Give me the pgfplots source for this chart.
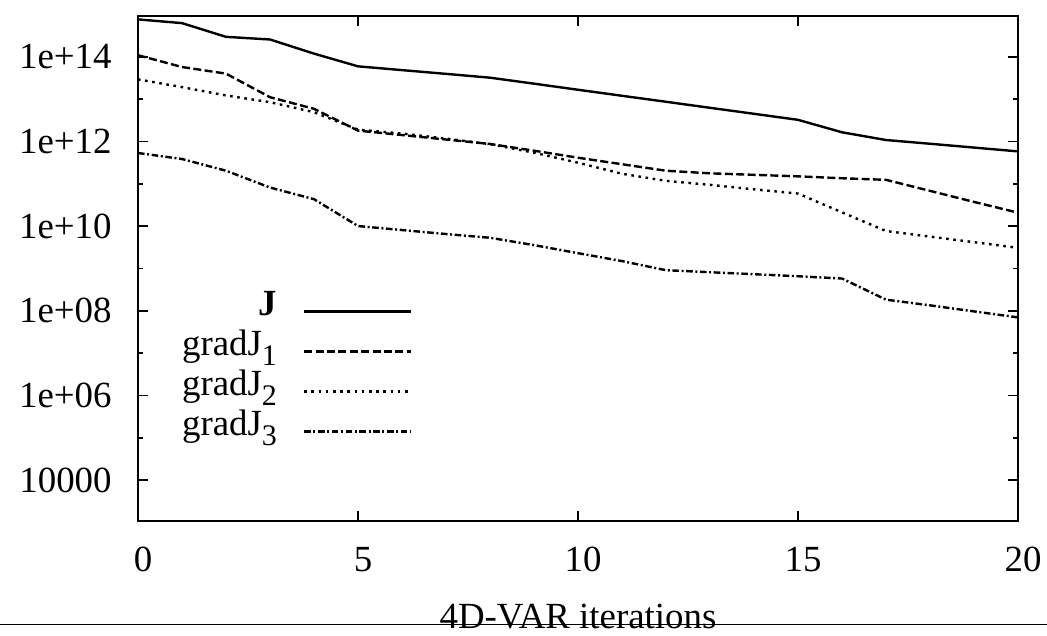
\documentclass[border=0pt]{standalone}
\usepackage{fontspec}
\setmainfont{Liberation Serif}
\usepackage{pgfplots}
\pgfplotsset{compat=1.18}
\newcommand{\sub}[1]{\raisebox{-5bp}{\fontsize{15}{15}\selectfont #1}}
\begin{document}
\fontsize{18.5}{22}\selectfont
\begin{tikzpicture}
\useasboundingbox (-69bp,-57.65bp) rectangle (454.5bp,260.35bp);
\begin{axis}[
  at={(0,0)}, anchor=south west,
  scale only axis, width=440bp, height=252.35bp,
  xmin=0, xmax=20, ymode=log, ymin=1.1e3, ymax=9.3e14,
  axis line style={line width=0.9bp},
  every tick/.style={line width=0.8bp, black},
  major tick length=5bp, minor tick length=2.5bp,
  xtick={0,5,10,15,20},
  ytick={1e4,1e6,1e8,1e10,1e12,1e14},
  yticklabels={10000,1e+06,1e+08,1e+10,1e+12,1e+14},
  minor ytick={1e5,1e7,1e9,1e11,1e13},
  /pgf/number format/assume math mode=true,
  tick label style={font=\fontsize{18.5}{22}\selectfont},
  yticklabel style={inner sep=0pt, xshift=-13bp},
  xticklabel style={inner sep=0pt, yshift=-13bp, xshift=2.5bp},
  xlabel={4D-VAR iterations},
  xlabel style={at={(axis description cs:0.5,0)}, anchor=base, yshift=-53.8bp, inner sep=0pt, font=\fontsize{18.5}{22}\selectfont},
  legend cell align=right,
  legend plot pos=right,
  legend image code/.code={\draw[#1] (0bp,0bp) -- (53.5bp,0bp);},
  legend style={at={(rel axis cs:0.319,0.463)}, anchor=north east, draw=none, fill=none,
    font=\fontsize{18.5}{22}\selectfont, row sep=0pt,
    nodes={inner sep=0pt, text height=12bp, text depth=8bp},
    /tikz/every odd column/.append style={column sep=13bp}},
  clip=true,
]
\addplot[black, line width=1.2bp] coordinates {
(0,7.73e14) (1,6.31e14) (2,2.99e14) (3,2.59e14) (4,1.20e14) (5,6.01e13)
(6,4.89e13) (7,3.99e13) (8,3.24e13) (9,2.34e13) (10,1.68e13) (11,1.21e13)
(12,8.74e12) (13,6.29e12) (14,4.54e12) (15,3.27e12) (16,1.66e12) (17,1.09e12)
(18,8.90e11) (19,7.23e11) (20,5.87e11)};
\addlegendentry{\textbf{J}}
\addplot[black, line width=1.2bp, dash pattern=on 4bp off 1.7bp] coordinates {
(0,1.10e14) (1,5.79e13) (2,4.04e13) (3,1.12e13) (4,5.96e12) (5,1.82e12)
(6,1.43e12) (7,1.12e12) (8,8.80e11) (9,6.10e11) (10,4.16e11) (11,2.92e11)
(12,2.05e11) (13,1.78e11) (14,1.64e11) (15,1.51e11) (16,1.36e11) (17,1.25e11)
(18,6.85e10) (19,3.76e10) (20,2.09e10)};
\addlegendentry{gradJ\sub{1}}
\addplot[black, line width=1.2bp, dash pattern=on 1.3bp off 2.3bp] coordinates {
(0,2.96e13) (1,1.94e13) (2,1.23e13) (3,8.55e12) (4,4.95e12) (5,1.92e12)
(6,1.55e12) (7,1.18e12) (8,8.71e11) (9,5.47e11) (10,3.17e11) (11,1.74e11)
(12,1.18e11) (13,9.51e10) (14,7.44e10) (15,5.92e10) (16,2.13e10) (17,7.71e9)
(18,5.68e9) (19,4.20e9) (20,3.09e9)};
\addlegendentry{gradJ\sub{2}}
\addplot[black, line width=1.2bp, dash pattern=on 3.3bp off 1.3bp on 1bp off 1.3bp] coordinates {
(0,5.38e11) (1,3.88e11) (2,2.05e11) (3,8.21e10) (4,4.36e10) (5,1.01e10)
(6,8.13e9) (7,6.54e9) (8,5.34e9) (9,3.58e9) (10,2.31e9) (11,1.50e9)
(12,9.14e8) (13,8.19e8) (14,7.35e8) (15,6.58e8) (16,5.81e8) (17,1.84e8)
(18,1.35e8) (19,9.72e7) (20,7.00e7)};
\addlegendentry{gradJ\sub{3}}
\end{axis}
\draw[line width=0.8bp] (-69bp,-51.8bp) -- (454.5bp,-51.8bp);
\end{tikzpicture}
\end{document}
